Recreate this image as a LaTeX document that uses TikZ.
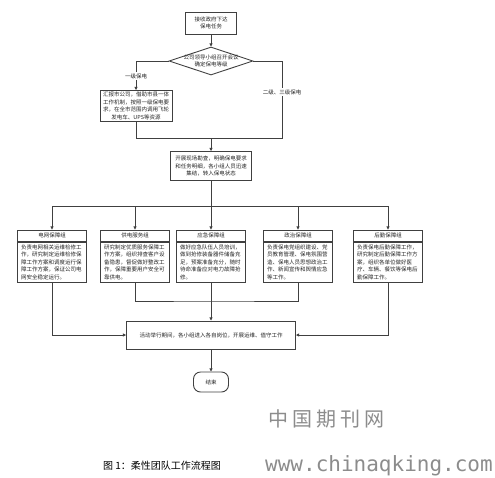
\documentclass[tikz,border=0pt]{standalone}
\usepackage{fontspec}
\newfontfamily\cjkfont{Noto Sans CJK SC}
\setmonofont{DejaVu Sans Mono}
\definecolor{FlowLine}{HTML}{404040}
\definecolor{FlowText}{HTML}{262626}
\definecolor{MarkGray}{HTML}{8C8C8C}
\usetikzlibrary{arrows.meta, positioning, shapes.geometric}

\begin{document}
\begin{tikzpicture}[x=1pt, y=-1pt, >={Triangle[length=3.2pt, width=3pt]},
  every node/.style={font={\cjkfont\fontsize{5.5pt}{7.5pt}\selectfont}, text=FlowText},
  box/.style={draw=FlowLine, line width=0.9pt, align=center, inner xsep=2.5pt, inner ysep=1.5pt},
  grpbody/.style={box, align=left, text width=62pt, minimum height=40pt, inner xsep=3.5pt, inner ysep=2pt},
  grptitle/.style={box, minimum width=69pt, minimum height=11pt, inner sep=0pt},
  lbl/.style={fill=white, inner sep=1pt},
  link/.style={draw=FlowLine, line width=0.9pt}]
  \useasboundingbox (0,0) rectangle (495,477);

  \node[box, minimum width=51pt, minimum height=22pt] (task) at (211,23) {接收政府下达\\保电任务};
  \node[box, shape=diamond, aspect=3, inner xsep=-4pt, inner ysep=-1pt,
    minimum width=84pt, minimum height=28pt] (level) at (211,61) {公司领导小组召开会议\\确定保电等级};
  \node[box, minimum width=72pt, minimum height=31pt] (first) at (136,106)
    {汇报市公司，借助市县一体\\工作机制，按照一级保电要\\求，在全市范围内调用飞轮\\发电车、UPS等资源};
  \node[box, minimum width=81pt, minimum height=29pt] (site) at (211,166)
    {开展现场勘查，明确保电要求\\和任务明细，各小组人员迅速\\集结，转入保电状态};

  \node[grpbody] (grid) at (52,262)
    {负责电网相关运维检修工\\作，研究制定运维检修保\\障工作方案和调度运行保\\障工作方案，保证公司电\\网安全稳定运行。};
  \node[grptitle, above=0pt of grid] (gridT) {电网保障组};
  \node[grpbody] (serv) at (135,262)
    {研究制定优质服务保障工\\作方案，组织排查客户设\\备隐患，督促做好整改工\\作，保障重要用户安全可\\靠供电。};
  \node[grptitle, above=0pt of serv] (servT) {供电服务组};
  \node[grpbody] (emer) at (211,262)
    {做好应急队伍人员培训，\\做到抢修装备器件储备充\\足，预案准备充分，随时\\待命准备应对电力故障抢\\修。};
  \node[grptitle, above=0pt of emer] (emerT) {应急保障组};
  \node[grpbody] (poli) at (298,262)
    {负责保电党组织建设、党\\员教育管理、保电氛围营\\造、保电人员思想政治工\\作、新闻宣传和舆情应急\\等工作。};
  \node[grptitle, above=0pt of poli] (poliT) {政治保障组};
  \node[grpbody] (logi) at (388,262)
    {负责保电后勤保障工作，\\研究制定后勤保障工作方\\案，组织各单位做好医\\疗、车辆、餐饮等保电后\\勤保障工作。};
  \node[grptitle, above=0pt of logi] (logiT) {后勤保障组};

  \node[box, minimum width=169pt, minimum height=28pt] (duty) at (211,335)
    {活动举行期间，各小组进入各自岗位，开展运维、值守工作};
  \node[box, rounded corners=7pt, minimum width=35pt, minimum height=20pt] (finish) at (211,382) {结束};

  \coordinate (join) at (211,138);
  \coordinate (bend) at (282,138);
  \coordinate (bus) at (211,206);
  \coordinate (merge) at (211,301);

  \draw[link, ->] (task) -- (level);
  \draw[link, ->] (level.west) -| (first.north);
  \draw[link] (level.east) -| (bend) -- (join);
  \draw[link] (first.south) |- (join);
  \draw[link, ->] (join) -- (site);
  \draw[link] (site) -- (bus);
  \foreach \g in {gridT, servT, poliT, logiT}
    \draw[link, ->] (bus) -| (\g.north);
  \draw[link, ->] (bus) -- (emerT);
  \draw[link, ->] (grid.south) |- (duty.west);
  \draw[link, ->] (logi.south) |- (duty.east);
  \draw[link] (serv.south) |- (merge) -| (poli.south);
  \draw[link, ->] (emer) -- (duty);
  \draw[link, ->] (duty) -- (finish);

  \node[lbl] (one) at (136,76) {一级保电};
  \node[lbl] (two) at (282,92) {二级、三级保电};

  \node[font={\cjkfont\fontsize{10pt}{12pt}\selectfont}, text=black] (cap) at (162,466) {图 1：柔性团队工作流程图};
  \node[font={\cjkfont\fontsize{20pt}{22pt}\selectfont}, text=MarkGray, anchor=west, inner sep=0pt] (markcn) at (268,419)
    {中\hspace{4pt}国\hspace{4pt}期\hspace{4pt}刊\hspace{4pt}网};
  \node[font={\ttfamily\fontsize{21pt}{24pt}\selectfont}, text=MarkGray, anchor=west, inner sep=0pt] (markurl) at (265,466)
    {www.chinaqking.com};
\end{tikzpicture}
\end{document}
